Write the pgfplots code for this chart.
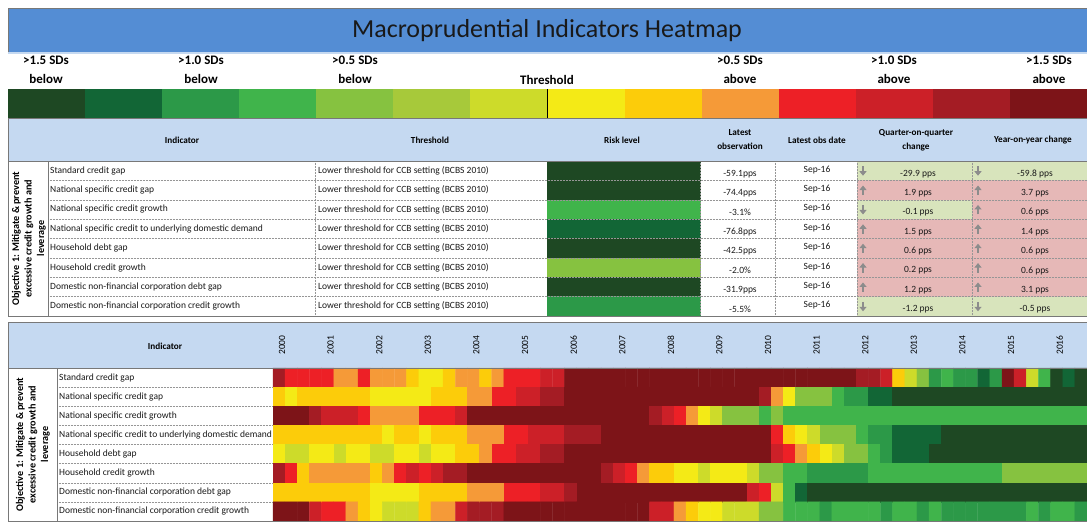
\documentclass[border=0pt]{standalone}
\usepackage{pgfplots}
\pgfplotsset{compat=1.18}
\usetikzlibrary{arrows.meta}
\usepackage{fontspec}
\setmainfont{Carlito}
\definecolor{titleblue}{RGB}{84,141,212}
\definecolor{hdrblue}{RGB}{197,217,241}
\definecolor{gridgray}{RGB}{150,150,150}
\definecolor{bordergray}{RGB}{120,120,120}
\definecolor{upbg}{RGB}{230,184,183}
\definecolor{downbg}{RGB}{216,228,188}
\definecolor{arrowgray}{RGB}{140,140,140}
\definecolor{L1}{RGB}{30,72,35}
\definecolor{L2}{RGB}{18,102,54}
\definecolor{L3}{RGB}{44,153,72}
\definecolor{L4}{RGB}{64,180,75}
\definecolor{L5}{RGB}{134,194,64}
\definecolor{L6}{RGB}{167,201,58}
\definecolor{L7}{RGB}{205,219,42}
\definecolor{L8}{RGB}{244,234,22}
\definecolor{L9}{RGB}{252,204,10}
\definecolor{L10}{RGB}{245,154,56}
\definecolor{L11}{RGB}{237,32,38}
\definecolor{L12}{RGB}{204,32,40}
\definecolor{L13}{RGB}{164,28,36}
\definecolor{L14}{RGB}{125,20,24}
\tikzset{
 body/.style={font=\fontsize{9.5}{11}\selectfont, inner sep=0pt, text=black!90},
 hdr/.style={font=\bfseries\fontsize{9.2}{14}\selectfont, inner sep=0pt, align=center},
 leg/.style={font=\bfseries\fontsize{13}{19}\selectfont, inner sep=0pt, align=center},
 obj/.style={font=\bfseries\fontsize{10.2}{12.5}\selectfont, inner sep=0pt, align=center, rotate=90},
 yr/.style={font=\fontsize{9.5}{11}\selectfont, inner sep=0pt, rotate=90},
 dnarr/.style={arrowgray, line width=2.2pt, -{Triangle[width=7pt,length=4.5pt]}},
}
% #1 centre, #2 name, #3 latest observation
\newcommand\urow[3]{%
 \node[body,anchor=west] at (50,#1) {#2};
 \node[body,anchor=west] at (318,#1) {Lower threshold for CCB setting (BCBS 2010)};
 \node[body,yshift=-3pt] at (740,#1) {#3};
 \node[body,yshift=1pt] at (817,#1) {Sep-16};
}
% #1 top, #2 bottom, #3 centre, #4 x0, #5 x1, #6 colour, #7 d/u, #8 value, #9 value x
\newcommand\uchg[9]{%
 \fill[#6] (#4,#1) rectangle (#5,#2);
 \if#7d\draw[dnarr] (#4,#3) ++(6pt,4.5pt) -- ++(0,-9.5pt);\else\draw[dnarr] (#4,#3) ++(6pt,-5pt) -- ++(0,9.5pt);\fi
 \node[body,yshift=-3pt] at (#9,#3) {#8};
}
\begin{document}
\begin{tikzpicture}
\begin{axis}[
 width=1087pt, height=523pt, scale only axis,
 xmin=0, xmax=1087, ymin=0, ymax=523, y dir=reverse,
 hide axis, clip=false,
 colormap={risk}{rgb255=(30,72,35) rgb255=(18,102,54) rgb255=(44,153,72) rgb255=(64,180,75) rgb255=(134,194,64) rgb255=(167,201,58) rgb255=(205,219,42) rgb255=(244,234,22) rgb255=(252,204,10) rgb255=(245,154,56) rgb255=(237,32,38) rgb255=(204,32,40) rgb255=(164,28,36) rgb255=(125,20,24)},
 colormap access=piecewise constant,
 point meta min=0.5, point meta max=14.5,
]
% ---------- title ----------
\fill[titleblue] (8,8) rectangle (1087,52);
\fill[hdrblue] (8,52) rectangle (1087,54);
\draw[bordergray] (8,52) -- (8,8) -- (1087,8);
\node[inner sep=0pt, font=\fontsize{26}{30}\selectfont, text=black!90] at (547,31) {Macroprudential Indicators Heatmap};
% ---------- legend ----------
\node[leg] at (46,70) {>1.5 SDs\\below};
\node[leg] at (201,70) {>1.0 SDs\\below};
\node[leg] at (355,70) {>0.5 SDs\\below};
\node[leg] at (547,80) {Threshold};
\node[leg] at (740,70) {>0.5 SDs\\above};
\node[leg] at (894,70) {>1.0 SDs\\above};
\node[leg] at (1049,70) {>1.5 SDs\\above};
\fill[L1] (8,89) rectangle (85.07,118);
\fill[L2] (85.07,89) rectangle (162.14,118);
\fill[L3] (162.14,89) rectangle (239.21,118);
\fill[L4] (239.21,89) rectangle (316.29,118);
\fill[L5] (316.29,89) rectangle (393.36,118);
\fill[L6] (393.36,89) rectangle (470.43,118);
\fill[L7] (470.43,89) rectangle (547.5,118);
\fill[L8] (547.5,89) rectangle (624.57,118);
\fill[L9] (624.57,89) rectangle (701.64,118);
\fill[L10] (701.64,89) rectangle (778.71,118);
\fill[L11] (778.71,89) rectangle (855.79,118);
\fill[L12] (855.79,89) rectangle (932.86,118);
\fill[L13] (932.86,89) rectangle (1009.93,118);
\fill[L14] (1009.93,89) rectangle (1087,118);
\draw[black, line width=1pt] (547,89) -- (547,118);
% ---------- upper table ----------
\fill[hdrblue] (8,118) rectangle (1087,161);
\uchg{161}{180.375}{170.69}{857}{972}{downbg}{d}{-29.9 pps}{918}
\uchg{161}{180.375}{170.69}{972}{1087}{downbg}{d}{-59.8 pps}{1035}
\uchg{180.375}{199.75}{190.06}{857}{972}{upbg}{u}{1.9 pps}{918}
\uchg{180.375}{199.75}{190.06}{972}{1087}{upbg}{u}{3.7 pps}{1035}
\uchg{199.75}{219.125}{209.44}{857}{972}{downbg}{d}{-0.1 pps}{918}
\uchg{199.75}{219.125}{209.44}{972}{1087}{upbg}{u}{0.6 pps}{1035}
\uchg{219.125}{238.5}{228.81}{857}{972}{upbg}{u}{1.5 pps}{918}
\uchg{219.125}{238.5}{228.81}{972}{1087}{upbg}{u}{1.4 pps}{1035}
\uchg{238.5}{257.875}{248.19}{857}{972}{upbg}{u}{0.6 pps}{918}
\uchg{238.5}{257.875}{248.19}{972}{1087}{upbg}{u}{0.6 pps}{1035}
\uchg{257.875}{277.25}{267.56}{857}{972}{upbg}{u}{0.2 pps}{918}
\uchg{257.875}{277.25}{267.56}{972}{1087}{upbg}{u}{0.6 pps}{1035}
\uchg{277.25}{296.625}{286.94}{857}{972}{upbg}{u}{1.2 pps}{918}
\uchg{277.25}{296.625}{286.94}{972}{1087}{upbg}{u}{3.1 pps}{1035}
\uchg{296.625}{316}{306.31}{857}{972}{downbg}{d}{-1.2 pps}{918}
\uchg{296.625}{316}{306.31}{972}{1087}{downbg}{d}{-0.5 pps}{1035}
% risk level column
\addplot[matrix plot*, mesh/cols=2, point meta=explicit] coordinates {
(585.25,170.6875) [1] (661.75,170.6875) [1]
(585.25,190.0625) [1] (661.75,190.0625) [1]
(585.25,209.4375) [4] (661.75,209.4375) [4]
(585.25,228.8125) [2] (661.75,228.8125) [2]
(585.25,248.1875) [1] (661.75,248.1875) [1]
(585.25,267.5625) [5] (661.75,267.5625) [5]
(585.25,286.9375) [1] (661.75,286.9375) [1]
(585.25,306.3125) [3] (661.75,306.3125) [3]
};
% grid lines
\foreach \yy in {180.375,199.75,219.125,238.5,257.875,277.25,296.625}
  {\edef\tmp{\noexpand\draw[gridgray, densely dotted, line width=0.5pt] (48,\yy) -- (1087,\yy);}\tmp}
\draw[gridgray, densely dotted, line width=0.5pt] (315,161) -- (315,316);
\draw[gridgray, densely dotted, line width=0.5pt] (700,161) -- (700,316);
\draw[gridgray, densely dotted, line width=0.5pt] (775,161) -- (775,316);
\draw[gridgray, densely dotted, line width=0.5pt] (857,161) -- (857,316);
\draw[gridgray, densely dotted, line width=0.5pt] (972,161) -- (972,316);
\draw[bordergray] (8,161) -- (1087,161);
\draw[bordergray] (48,161) -- (48,316);
\draw[bordergray] (8,118) rectangle (1087,316);
% header texts
\node[hdr] at (182,140) {Indicator};
\node[hdr] at (430,140) {Threshold};
\node[hdr] at (622,140) {Risk level};
\node[hdr] at (740,140) {Latest\\observation};
\node[hdr] at (817,140) {Latest obs date};
\node[hdr] at (916,140) {Quarter-on-quarter\\change};
\node[hdr] at (1033,140) {Year-on-year change};
\node[obj] at (29,238.5) {Objective 1: Mitigate \& prevent\\excessive credit growth and\\leverage};
\urow{170.69}{Standard credit gap}{-59.1pps}
\urow{190.06}{National specific credit gap}{-74.4pps}
\urow{209.44}{National specific credit growth}{-3.1\%}
\urow{228.81}{National specific credit to underlying domestic demand}{-76.8pps}
\urow{248.19}{Household debt gap}{-42.5pps}
\urow{267.56}{Household credit growth}{-2.0\%}
\urow{286.94}{Domestic non-financial corporation debt gap}{-31.9pps}
\urow{306.31}{Domestic non-financial corporation credit growth}{-5.5\%}
% ---------- lower table ----------
\fill[hdrblue] (8,322) rectangle (1087,368);
\addplot[matrix plot*, mesh/cols=67, point meta=explicit]
 table[row sep=\\, header=false, x expr={279.075+12.15*mod(\coordindex,67)}, y expr={377.5625+19.125*floor((\coordindex+0.5)/67)}, meta index=0] {
13\\11\\11\\11\\11\\10\\10\\11\\10\\10\\10\\9\\8\\8\\9\\10\\10\\9\\10\\11\\11\\11\\12\\12\\
14\\14\\14\\14\\14\\14\\14\\14\\14\\14\\14\\14\\14\\14\\14\\14\\14\\14\\14\\14\\14\\14\\14\\14\\
13\\13\\12\\9\\7\\5\\3\\4\\3\\3\\2\\3\\14\\12\\7\\4\\1\\2\\1\\
9\\8\\9\\9\\9\\9\\9\\9\\8\\8\\8\\8\\8\\9\\9\\9\\10\\10\\11\\11\\12\\12\\13\\13\\
14\\14\\14\\14\\14\\14\\14\\14\\14\\14\\14\\14\\14\\14\\14\\14\\
13\\10\\8\\5\\5\\5\\4\\3\\3\\2\\2\\
1\\1\\1\\1\\1\\1\\1\\1\\1\\1\\1\\1\\1\\1\\1\\1\\
14\\14\\14\\13\\12\\12\\12\\11\\10\\10\\10\\10\\11\\11\\11\\12\\
14\\14\\14\\14\\14\\14\\14\\14\\14\\14\\14\\14\\14\\14\\14\\
13\\12\\11\\10\\8\\7\\5\\5\\5\\4\\5\\
4\\4\\4\\4\\4\\4\\4\\4\\4\\4\\4\\4\\4\\4\\4\\4\\4\\4\\4\\4\\4\\4\\4\\4\\4\\
9\\9\\9\\9\\9\\9\\9\\9\\9\\8\\9\\9\\8\\9\\9\\9\\10\\10\\10\\11\\11\\12\\12\\12\\13\\13\\13\\
14\\14\\14\\14\\14\\14\\14\\14\\14\\14\\14\\14\\14\\14\\
11\\9\\8\\7\\5\\5\\5\\4\\3\\3\\2\\2\\2\\2\\
1\\1\\1\\1\\1\\1\\1\\1\\1\\1\\1\\1\\
8\\7\\7\\8\\8\\7\\8\\8\\7\\7\\8\\8\\7\\8\\8\\9\\9\\10\\11\\11\\12\\12\\13\\13\\
14\\14\\14\\14\\14\\14\\14\\14\\14\\14\\14\\14\\14\\14\\14\\14\\14\\
12\\11\\10\\9\\8\\7\\5\\5\\4\\3\\2\\2\\2\\
1\\1\\1\\1\\1\\1\\1\\1\\1\\1\\1\\1\\1\\
13\\11\\9\\10\\10\\10\\10\\10\\9\\10\\11\\12\\11\\12\\13\\13\\
14\\14\\14\\14\\14\\14\\14\\14\\14\\14\\14\\
13\\12\\11\\10\\9\\9\\8\\8\\7\\8\\8\\8\\7\\5\\5\\4\\4\\3\\3\\3\\3\\3\\
4\\4\\4\\4\\4\\4\\4\\4\\4\\4\\4\\
5\\5\\5\\5\\5\\5\\5\\
9\\9\\9\\9\\9\\9\\9\\9\\8\\8\\8\\8\\9\\9\\9\\9\\10\\10\\10\\11\\11\\11\\12\\12\\13\\
14\\14\\14\\14\\14\\14\\14\\14\\14\\14\\14\\14\\14\\14\\
12\\11\\7\\4\\2\\
1\\1\\1\\1\\1\\1\\1\\1\\1\\1\\1\\1\\1\\1\\1\\1\\1\\1\\1\\1\\1\\1\\1\\
14\\14\\14\\12\\11\\11\\10\\9\\8\\7\\7\\7\\9\\10\\10\\12\\13\\13\\13\\
14\\14\\14\\14\\14\\14\\14\\14\\14\\14\\14\\14\\
12\\12\\10\\9\\8\\8\\7\\7\\7\\5\\5\\4\\4\\4\\3\\4\\4\\4\\4\\3\\4\\4\\3\\4\\3\\3\\3\\3\\3\\3\\3\\4\\3\\4\\4\\3\\
};
\foreach \yy in {387.125,406.25,425.375,444.5,463.625,482.75,501.875}
  {\edef\tmp{\noexpand\draw[gridgray, densely dotted, line width=0.5pt] (57,\yy) -- (273,\yy);}\tmp}
\draw[bordergray] (8,368) -- (1087,368);
\draw[bordergray] (57,368) -- (57,521);
\draw[bordergray] (8,322) rectangle (1087,521);
\node[hdr] at (165,346) {Indicator};
\node[yr] at (282,345) {2000};
\node[yr] at (330.6,345) {2001};
\node[yr] at (379.2,345) {2002};
\node[yr] at (427.8,345) {2003};
\node[yr] at (476.4,345) {2004};
\node[yr] at (525,345) {2005};
\node[yr] at (573.6,345) {2006};
\node[yr] at (622.2,345) {2007};
\node[yr] at (670.8,345) {2008};
\node[yr] at (719.4,345) {2009};
\node[yr] at (768,345) {2010};
\node[yr] at (816.6,345) {2011};
\node[yr] at (865.2,345) {2012};
\node[yr] at (913.8,345) {2013};
\node[yr] at (962.4,345) {2014};
\node[yr] at (1011,345) {2015};
\node[yr] at (1059.6,345) {2016};
\node[obj] at (33,444.5) {Objective 1: Mitigate \& prevent\\excessive credit growth and\\leverage};
\node[body,anchor=west] at (59,377.56) {Standard credit gap};
\node[body,anchor=west] at (59,396.69) {National specific credit gap};
\node[body,anchor=west] at (59,415.81) {National specific credit growth};
\node[body,anchor=west] at (59,434.94) {National specific credit to underlying domestic demand};
\node[body,anchor=west] at (59,454.06) {Household debt gap};
\node[body,anchor=west] at (59,473.19) {Household credit growth};
\node[body,anchor=west] at (59,492.31) {Domestic non-financial corporation debt gap};
\node[body,anchor=west] at (59,511.44) {Domestic non-financial corporation credit growth};
\end{axis}
\pgfresetboundingbox
\path[use as bounding box] (0,0) rectangle (1087pt,523pt);
\end{tikzpicture}
\end{document}
